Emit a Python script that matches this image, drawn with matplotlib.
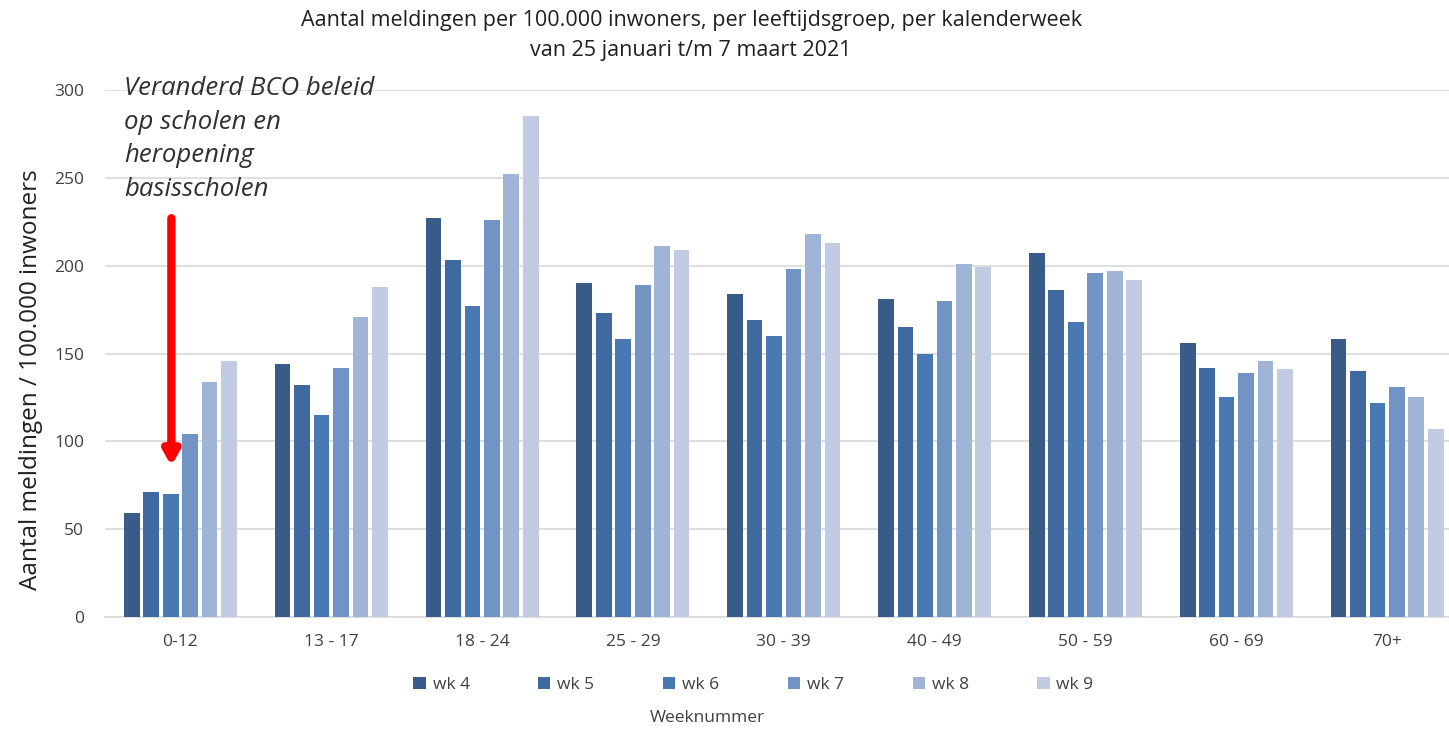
import matplotlib
matplotlib.use('Agg')
import matplotlib.pyplot as plt
import numpy as np

# age groups on the x axis
age_groups = ["0-12", "13 - 17", "18 - 24", "25 - 29", "30 - 39",
              "40 - 49", "50 - 59", "60 - 69", "70+"]
weeks = ["wk 4", "wk 5", "wk 6", "wk 7", "wk 8", "wk 9"]

# meldingen per 100.000 inwoners, one list per week
wk4 = [59, 144, 227, 190, 184, 181, 207, 156, 158]
wk5 = [71, 132, 203, 173, 169, 165, 186, 142, 140]
wk6 = [70, 115, 177, 158, 160, 150, 168, 125, 122]
wk7 = [104, 142, 226, 189, 198, 180, 196, 139, 131]
wk8 = [134, 171, 252, 211, 218, 201, 197, 146, 125]
wk9 = [146, 188, 285, 209, 213, 199, 192, 141, 107]
series = [wk4, wk5, wk6, wk7, wk8, wk9]

colors = ["#385B88", "#406A9F", "#4879B3", "#7294C4", "#A0B4D6", "#C1CCE2"]

font = "Open Sans"
text_color = "#404040"

fig = plt.figure(figsize=(14.49, 7.29), dpi=100)
ax = fig.add_axes([105 / 1449, 1 - 617 / 729, 1 - 105 / 1449, (617 - 90) / 729])

x = np.arange(len(age_groups))
pitch = 0.129
bar_w = 0.104
for i, vals in enumerate(series):
    ax.bar(x + (i - 2.5) * pitch, vals, width=bar_w, color=colors[i], label=weeks[i], zorder=3)

ax.set_xlim(-0.5, 8.41)
ax.set_ylim(0, 300)
ax.set_yticks(range(0, 301, 50))
ax.grid(axis='y', color='#D9D9D9', linewidth=1.2, zorder=0)
for side in ['top', 'right', 'left']:
    ax.spines[side].set_visible(False)
ax.spines['bottom'].set_color('#D9D9D9')
ax.spines['bottom'].set_linewidth(1.2)
ax.tick_params(axis='both', length=0, labelsize=12.5, labelcolor=text_color)
ax.tick_params(axis='x', pad=12)
ax.tick_params(axis='y', pad=15)
ax.set_xticks(x)
ax.set_xticklabels(age_groups, fontfamily=font)
for lbl in ax.get_yticklabels():
    lbl.set_fontfamily(font)

ax.set_ylabel("Aantal meldingen / 100.000 inwoners", fontsize=17.5, fontfamily=font,
              color="#202020")
ax.yaxis.set_label_coords(-62 / 1344, 0.45)

fig.text(0.477, 0.972, "Aantal meldingen per 100.000 inwoners, per leeftijdsgroep, per kalenderweek",
         ha='center', va='center', fontsize=15.5, fontfamily=font, color="#202020")
fig.text(0.477, 0.931, "van 25 januari t/m 7 maart 2021",
         ha='center', va='center', fontsize=15.5, fontfamily=font, color="#202020")

# annotation with red arrow
fig.text(124 / 1449, 1 - 76 / 729,
         "Veranderd BCO beleid\nop scholen en\nheropening\nbasisscholen",
         ha='left', va='top', fontsize=18.5, fontstyle='italic', fontfamily=font,
         color="#303030", linespacing=1.45)
ax.annotate("", xy=(-0.06, 86), xytext=(-0.06, 227),
            arrowprops=dict(arrowstyle="-|>,head_width=0.45,head_length=0.8",
                            color="#FF0000", lw=6, shrinkA=0, shrinkB=0),
            zorder=5)

fig.legend(loc='center', bbox_to_anchor=(0.52, 1 - 685 / 729), ncol=6,
           frameon=False, handlelength=0.7, handleheight=0.7, handletextpad=0.4,
           columnspacing=3.95, prop={'family': font, 'size': 12.5}, labelcolor=text_color)
fig.text(0.488, 1 - 718 / 729, "Weeknummer", ha='center', va='center',
         fontsize=12.5, fontfamily=font, color=text_color)

plt.savefig("out.png", dpi=100)
